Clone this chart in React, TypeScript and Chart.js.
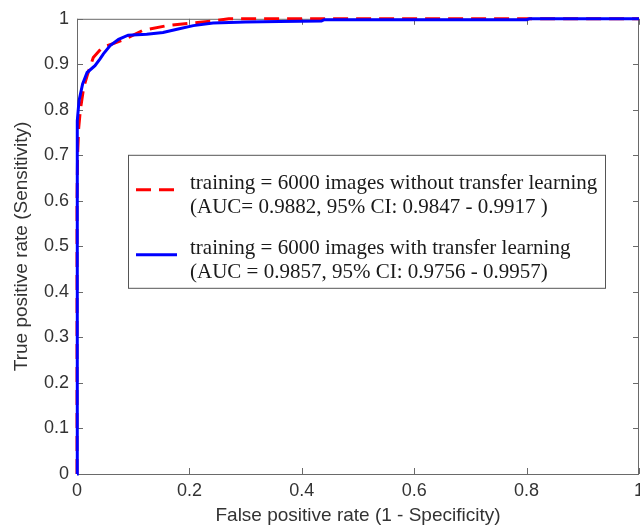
import React, { useEffect, useRef } from "react";
import { Chart, registerables } from "chart.js";

Chart.register(...registerables);

// ROC curve without transfer learning (red dashed)
const redFpr = [0, 0, 0.001, 0.003, 0.006, 0.012, 0.018, 0.022, 0.029, 0.045, 0.068, 0.09, 0.116, 0.16, 0.2, 0.24, 0.27, 1.0];
const redTpr = [0, 0.6, 0.7, 0.76, 0.8, 0.85, 0.875, 0.89, 0.915, 0.937, 0.947, 0.958, 0.974, 0.985, 0.99, 0.995, 1.0, 1.0];

// ROC curve with transfer learning (blue solid)
const blueFpr = [0, 0, 0.001, 0.0036, 0.01, 0.018, 0.032, 0.041, 0.047, 0.059, 0.074, 0.091, 0.124, 0.153, 0.178, 0.207, 0.242, 0.3, 0.36, 0.435, 0.44, 0.8, 0.805, 1.0];
const blueTpr = [0, 0.7, 0.776, 0.82, 0.857, 0.882, 0.897, 0.912, 0.923, 0.941, 0.955, 0.964, 0.966, 0.97, 0.977, 0.985, 0.991, 0.993, 0.994, 0.995, 0.998, 0.998, 1.0, 1.0];

const redLegend = [
  "training = 6000 images without transfer learning",
  "(AUC= 0.9882, 95% CI: 0.9847 - 0.9917 )",
];
const blueLegend = [
  "training = 6000 images with transfer learning",
  "(AUC = 0.9857, 95% CI: 0.9756 - 0.9957)",
];

const xTitle = "False positive rate (1 - Specificity)";
const yTitle = "True positive rate (Sensitivity)";

const toPoints = (xs: number[], ys: number[]) => xs.map((x, i) => ({ x, y: ys[i] }));
const fmtTick = (v: any) => String(Number(Number(v).toFixed(1)));

const framePlugin = {
  id: "frame",
  beforeDatasetsDraw(chart: any) {
    const { ctx, chartArea: a, scales } = chart;
    ctx.save();
    ctx.strokeStyle = "#6a6a6a";
    ctx.lineWidth = 1;
    ctx.strokeRect(a.left + 0.5, a.top + 0.5, a.right - a.left - 1, a.bottom - a.top);
    const tl = 6;
    ctx.beginPath();
    scales.x.ticks.forEach((t: any) => {
      const px = Math.round(scales.x.getPixelForValue(t.value)) + 0.5;
      ctx.moveTo(px, a.bottom);
      ctx.lineTo(px, a.bottom - tl);
      ctx.moveTo(px, a.top);
      ctx.lineTo(px, a.top + tl);
    });
    scales.y.ticks.forEach((t: any) => {
      const py = Math.round(scales.y.getPixelForValue(t.value)) + 0.5;
      ctx.moveTo(a.left, py);
      ctx.lineTo(a.left + tl, py);
      ctx.moveTo(a.right, py);
      ctx.lineTo(a.right - tl, py);
    });
    ctx.stroke();
    ctx.restore();
  },
  afterDraw(chart: any) {
    const { ctx, chartArea: a } = chart;
    const bx = a.left + 51;
    const by = a.top + 136;
    const bw = 477;
    const bh = 133;
    ctx.save();
    ctx.fillStyle = "#ffffff";
    ctx.fillRect(bx, by, bw, bh);
    ctx.strokeStyle = "#555555";
    ctx.lineWidth = 1;
    ctx.strokeRect(bx + 0.5, by + 0.5, bw, bh);
    const entries = [
      { ds: chart.data.datasets[0], lines: redLegend, top: by + 29 },
      { ds: chart.data.datasets[1], lines: blueLegend, top: by + 94 },
    ];
    ctx.font = "21px 'Liberation Serif', 'Times New Roman', serif";
    ctx.textBaseline = "middle";
    ctx.fillStyle = "#1a1a1a";
    entries.forEach((e) => {
      ctx.save();
      ctx.strokeStyle = e.ds.borderColor;
      ctx.lineWidth = 3;
      ctx.setLineDash(e.ds.borderDash || []);
      ctx.beginPath();
      ctx.moveTo(bx + 8, e.top + 6);
      ctx.lineTo(bx + 49, e.top + 6);
      ctx.stroke();
      ctx.restore();
      e.lines.forEach((ln, i) => {
        ctx.fillText(ln, bx + 62, e.top + i * 23.5);
      });
    });
    ctx.restore();
  },
};

export default function App() {
  const ref = useRef<HTMLCanvasElement | null>(null);
  useEffect(() => {
    if (!ref.current) return;
    const tickFont = { family: "'Liberation Sans', Arial, sans-serif", size: 18 };
    const titleFont = { family: "'Liberation Sans', Arial, sans-serif", size: 19 };
    const chart = new Chart(ref.current, {
      type: "line",
      data: {
        datasets: [
          {
            label: redLegend.join("\n"),
            data: toPoints(redFpr, redTpr),
            borderColor: "#ff0000",
            borderWidth: 3,
            borderDash: [15, 8],
            pointRadius: 0,
            tension: 0,
            fill: false,
            order: 2,
            clip: 5,
          },
          {
            label: blueLegend.join("\n"),
            data: toPoints(blueFpr, blueTpr),
            borderColor: "#0000ff",
            borderWidth: 3,
            pointRadius: 0,
            tension: 0,
            fill: false,
            order: 1,
            clip: 5,
          },
        ],
      },
      options: {
        responsive: false,
        animation: false,
        devicePixelRatio: 1,
        layout: { padding: { left: 0, right: 21, top: 18, bottom: 0 } },
        plugins: { legend: { display: false }, tooltip: { enabled: false } },
        scales: {
          x: {
            type: "linear",
            min: 0,
            max: 1,
            grid: { display: false, drawTicks: false },
            border: { display: false },
            ticks: { stepSize: 0.2, padding: 6, color: "#333", font: tickFont, maxRotation: 0, callback: fmtTick },
            title: { display: true, text: xTitle, color: "#333", font: titleFont, padding: { top: 0, bottom: 0 } },
            afterFit: (s: any) => {
              s.height = 53;
            },
          },
          y: {
            type: "linear",
            min: 0,
            max: 1,
            grid: { display: false, drawTicks: false },
            border: { display: false },
            ticks: { stepSize: 0.1, padding: 8, color: "#333", font: tickFont, callback: fmtTick },
            title: { display: true, text: yTitle, color: "#333", font: titleFont, padding: 10 },
            afterFit: (s: any) => {
              s.width = 77;
            },
          },
        },
      },
      plugins: [framePlugin],
    } as any);
    return () => chart.destroy();
  }, []);
  return (
    <div style={{ position: "absolute", left: 0, top: 0, width: 640, height: 527, overflow: "hidden", background: "#fff" }}>
      <canvas ref={ref} width={660} height={527} style={{ width: 660, height: 527, display: "block" }} />
    </div>
  );
}
